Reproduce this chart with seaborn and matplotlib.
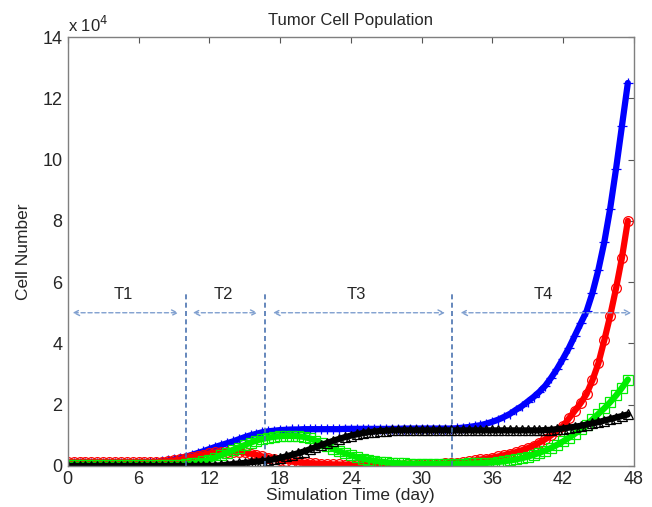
import numpy as np
import pandas as pd
import matplotlib
matplotlib.use("Agg")
import matplotlib.pyplot as plt
import seaborn as sns

# time points (day), every 0.5 day from 0 to 47.5
time = [i * 0.5 for i in range(96)]

# values in units of 1e4 cells
blue = [0.10, 0.10, 0.10, 0.10, 0.10, 0.10, 0.10, 0.10, 0.10, 0.10,
        0.10, 0.10, 0.10, 0.11, 0.12, 0.13, 0.15, 0.18, 0.21, 0.25,
        0.30, 0.36, 0.42, 0.48, 0.55, 0.62, 0.68, 0.74, 0.80, 0.87,
        0.94, 1.00, 1.05, 1.10, 1.13, 1.15, 1.17, 1.18, 1.19, 1.19,
        1.20, 1.20, 1.20, 1.20, 1.20, 1.20, 1.20, 1.21, 1.21, 1.21,
        1.21, 1.21, 1.21, 1.21, 1.21, 1.21, 1.21, 1.22, 1.22, 1.22,
        1.22, 1.22, 1.22, 1.22, 1.22, 1.22, 1.23, 1.25, 1.27, 1.30,
        1.33, 1.38, 1.44, 1.51, 1.60, 1.70, 1.83, 1.95, 2.10, 2.25,
        2.42, 2.62, 2.88, 3.17, 3.50, 3.85, 4.25, 4.65, 5.05, 5.65,
        6.40, 7.30, 8.40, 9.70, 11.10, 12.50]

red = [0.12, 0.12, 0.12, 0.12, 0.12, 0.12, 0.12, 0.12, 0.12, 0.12,
       0.12, 0.12, 0.12, 0.12, 0.12, 0.13, 0.14, 0.16, 0.18, 0.21,
       0.25, 0.29, 0.33, 0.37, 0.41, 0.44, 0.46, 0.47, 0.47, 0.46,
       0.44, 0.40, 0.36, 0.31, 0.27, 0.23, 0.20, 0.17, 0.14, 0.12,
       0.10, 0.09, 0.08, 0.07, 0.06, 0.05, 0.05, 0.04, 0.04, 0.04,
       0.04, 0.04, 0.04, 0.04, 0.04, 0.04, 0.04, 0.04, 0.04, 0.04,
       0.05, 0.05, 0.06, 0.07, 0.08, 0.09, 0.11, 0.13, 0.15, 0.18,
       0.21, 0.24, 0.27, 0.31, 0.35, 0.40, 0.45, 0.51, 0.58, 0.66,
       0.76, 0.87, 1.00, 1.14, 1.30, 1.55, 1.80, 2.05, 2.35, 2.80,
       3.35, 4.10, 4.90, 5.80, 6.80, 8.00]

green = [0.03, 0.03, 0.03, 0.03, 0.03, 0.03, 0.03, 0.03, 0.03, 0.03,
         0.03, 0.03, 0.03, 0.03, 0.03, 0.03, 0.03, 0.03, 0.03, 0.03,
         0.05, 0.08, 0.11, 0.15, 0.20, 0.27, 0.35, 0.43, 0.52, 0.60,
         0.68, 0.76, 0.83, 0.88, 0.92, 0.95, 0.97, 0.98, 0.98, 0.97,
         0.95, 0.90, 0.83, 0.74, 0.65, 0.56, 0.48, 0.41, 0.35, 0.29,
         0.24, 0.20, 0.17, 0.14, 0.12, 0.10, 0.09, 0.08, 0.07, 0.07,
         0.07, 0.07, 0.07, 0.07, 0.07, 0.07, 0.07, 0.07, 0.08, 0.08,
         0.09, 0.10, 0.11, 0.13, 0.15, 0.18, 0.21, 0.25, 0.30, 0.36,
         0.43, 0.50, 0.59, 0.69, 0.80, 0.92, 1.05, 1.20, 1.35, 1.52,
         1.70, 1.88, 2.08, 2.30, 2.55, 2.82]

black = [0.00, 0.00, 0.00, 0.00, 0.00, 0.00, 0.00, 0.00, 0.00, 0.00,
         0.00, 0.00, 0.00, 0.00, 0.00, 0.00, 0.00, 0.00, 0.00, 0.00,
         0.00, 0.00, 0.00, 0.00, 0.00, 0.01, 0.02, 0.04, 0.06, 0.08,
         0.10, 0.12, 0.14, 0.16, 0.18, 0.22, 0.26, 0.31, 0.36, 0.41,
         0.47, 0.54, 0.61, 0.68, 0.75, 0.82, 0.88, 0.94, 0.99, 1.03,
         1.07, 1.10, 1.12, 1.14, 1.15, 1.16, 1.16, 1.16, 1.16, 1.16,
         1.16, 1.16, 1.16, 1.16, 1.16, 1.16, 1.16, 1.16, 1.16, 1.16,
         1.16, 1.16, 1.16, 1.16, 1.16, 1.16, 1.16, 1.16, 1.16, 1.16,
         1.16, 1.17, 1.18, 1.20, 1.22, 1.25, 1.28, 1.31, 1.35, 1.39,
         1.43, 1.48, 1.53, 1.58, 1.63, 1.68]

# phase boundaries and labels
phase_bounds = [10.0, 16.7, 32.6]
phase_labels = ["T1", "T2", "T3", "T4"]
phase_label_x = [4.7, 13.2, 24.5, 40.3]
phase_arrows = [(0.4, 9.4), (10.6, 16.1), (17.4, 32.0), (33.3, 47.8)]

x_ticks = [0, 6, 12, 18, 24, 30, 36, 42, 48]
y_ticks = [0, 2, 4, 6, 8, 10, 12, 14]

sns.set_style("white")
plt.rcParams["font.family"] = ["Liberation Sans", "DejaVu Sans"]

fig = plt.figure(figsize=(6.52, 5.07), dpi=100)
ax = fig.add_axes([0.104, 0.081, 0.868, 0.846])

series = [
    (blue, "#0000ff", "+"),
    (red, "#ff0000", "o"),
    (green, "#00ee00", "s"),
    (black, "#000000", "^"),
]
for vals, col, mk in series:
    df = pd.DataFrame({"t": time, "v": vals})
    sns.lineplot(data=df, x="t", y="v", ax=ax, color=col, linewidth=4.5,
                 marker=mk, markersize=7, markerfacecolor="none",
                 markeredgecolor=col, markeredgewidth=0.9,
                 estimator=None, sort=False, legend=False)

for b in phase_bounds:
    ax.plot([b, b], [0, 5.7], linestyle=(0, (3, 2)), color="#4a73b0",
            linewidth=1.2)

for (x0, x1), lab, lx in zip(phase_arrows, phase_labels, phase_label_x):
    ax.annotate("", xy=(x1, 5.0), xytext=(x0, 5.0),
                arrowprops=dict(arrowstyle="<->", linestyle=(0, (3, 2)),
                                color="#7f9fcf", linewidth=1.0,
                                shrinkA=0, shrinkB=0))
    ax.text(lx, 5.6, lab, ha="center", va="center", fontsize=12)

ax.set_xlim(0, 48)
ax.set_ylim(0, 14)
ax.set_xticks(x_ticks)
ax.set_yticks(y_ticks)
ax.tick_params(direction="in", length=4, width=0.8, color="#555555",
               labelsize=13, top=True, right=True, pad=4)
for s in ax.spines.values():
    s.set_visible(True)
    s.set_color("#7f7f7f")
    s.set_linewidth(1.0)

ax.set_title("Tumor Cell Population", fontsize=12, pad=9)
ax.set_xlabel("Simulation Time (day)", fontsize=12.5, labelpad=0)
ax.set_ylabel("Cell Number", fontsize=12.5, labelpad=8)
ax.text(0.0, 1.005, r"x 10$^{4}$", transform=ax.transAxes, ha="left",
        va="bottom", fontsize=12)

fig.savefig("out.png", dpi=100)
